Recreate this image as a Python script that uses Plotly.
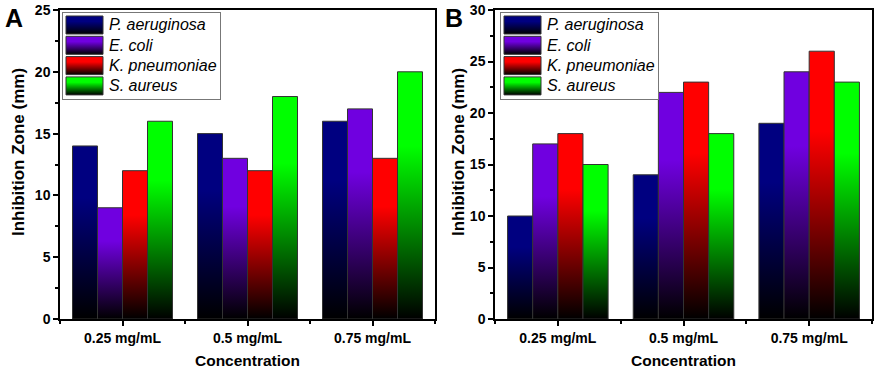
import plotly.graph_objects as go

categories = ["0.25 mg/mL", "0.5 mg/mL", "0.75 mg/mL"]
species = ["P. aeruginosa", "E. coli", "K. pneumoniae", "S. aureus"]
colors = ["#000080", "#7000E0", "#FF0000", "#00FF00"]

panel_a = {
    "P. aeruginosa": [14, 15, 16],
    "E. coli": [9, 13, 17],
    "K. pneumoniae": [12, 12, 13],
    "S. aureus": [16, 18, 20],
}
panel_b = {
    "P. aeruginosa": [10, 14, 19],
    "E. coli": [17, 22, 24],
    "K. pneumoniae": [18, 23, 26],
    "S. aureus": [15, 18, 23],
}

W, H = 879, 377


def px(x):
    return x / W


def py(y):
    return 1 - y / H


fig = go.Figure()

bar_w = 0.2
n = len(species)


def grad(c):
    return dict(type="vertical", colorscale=[[0, "#000000"], [0.7, c], [1, c]])


def add_panel(data, xa, ya):
    for si, sp in enumerate(species):
        vals = data[sp]
        for ci, v in enumerate(vals):
            x0 = ci - n * bar_w / 2 + si * bar_w
            x1 = x0 + bar_w
            fig.add_trace(go.Scatter(
                x=[x0, x0, x1, x1, x0], y=[0, v, v, 0, 0],
                mode="lines", fill="toself",
                line=dict(color="#333333", width=1),
                fillgradient=grad(colors[si]),
                name=sp, showlegend=False,
                xaxis=xa, yaxis=ya, hoverinfo="skip",
            ))


add_panel(panel_a, "x", "y")
add_panel(panel_b, "x2", "y2")

# Manual legend boxes (legend-local pixel units)
LEG_W, LEG_H = 157, 86
annotations = []


def add_legend(xa, ya):
    for si, sp in enumerate(species):
        top = LEG_H - 3 - si * 20.3
        bot = top - 18
        fig.add_trace(go.Scatter(
            x=[3, 3, 40, 40, 3], y=[bot, top, top, bot, bot],
            mode="lines", fill="toself",
            line=dict(color="#333333", width=1),
            fillgradient=grad(colors[si]),
            name=sp, showlegend=False, xaxis=xa, yaxis=ya, hoverinfo="skip",
        ))
        annotations.append(dict(
            text=sp, x=44, y=(top + bot) / 2, xref=xa, yref=ya,
            xanchor="left", yanchor="middle", showarrow=False,
            font=dict(family="Liberation Sans", size=16, color="black", style="italic"),
        ))


add_legend("x3", "y3")
add_legend("x4", "y4")

font_tick = dict(family="Liberation Sans", size=14, color="black", weight="bold")
font_title = dict(family="Liberation Sans", size=15.5, color="black", weight="bold")
font_ytitle = dict(family="Liberation Sans", size=17, color="black", weight="bold")

ydom = [py(319), py(10)]
xaxis_common = dict(
    range=[-0.5, 2.5], tickvals=[0, 1, 2], ticktext=categories,
    ticks="outside", ticklen=5, tickwidth=1.5, tickcolor="black",
    showline=True, linecolor="black", linewidth=1.5, mirror=True,
    showgrid=False, zeroline=False, tickfont=font_tick, automargin=False,
    ticklabeloverflow="allow",
    minor=dict(tickvals=[-0.5, 0.5, 1.5, 2.5], ticks="outside", ticklen=3, tickcolor="black", tickwidth=1.5),
    title=dict(text="Concentration", font=font_title, standoff=11),
)
yaxis_common = dict(
    ticks="outside", ticklen=5, tickwidth=1.5, tickcolor="black", dtick=5,
    showline=True, linecolor="black", linewidth=1.5, mirror=True,
    showgrid=False, zeroline=False, tickfont=font_tick, automargin=False,
    ticklabeloverflow="allow",
    minor=dict(dtick=2.5, ticks="outside", ticklen=3, tickcolor="black", tickwidth=1.5),
)
leg_x = dict(range=[0, LEG_W], showline=True, mirror=True, linecolor="#777777", linewidth=1,
             showticklabels=False, ticks="", showgrid=False, zeroline=False, fixedrange=True, automargin=False)
leg_y = dict(range=[0, LEG_H], showline=True, mirror=True, linecolor="#777777", linewidth=1,
             showticklabels=False, ticks="", showgrid=False, zeroline=False, fixedrange=True, automargin=False)

annotations += [
    dict(text="A", x=px(3), y=py(2), xref="paper", yref="paper", xanchor="left", yanchor="top",
         showarrow=False, font=dict(family="Liberation Sans", size=25, color="black", weight="bold")),
    dict(text="B", x=px(443), y=py(2), xref="paper", yref="paper", xanchor="left", yanchor="top",
         showarrow=False, font=dict(family="Liberation Sans", size=25, color="black", weight="bold")),
    dict(text="Inhibition Zone (mm)", x=px(18), y=py(152), xref="paper", yref="paper",
         xanchor="center", yanchor="middle", textangle=-90, showarrow=False, font=font_ytitle),
    dict(text="Inhibition Zone (mm)", x=px(458), y=py(152), xref="paper", yref="paper",
         xanchor="center", yanchor="middle", textangle=-90, showarrow=False, font=font_ytitle),
]

fig.update_layout(
    width=W, height=H, margin=dict(l=0, r=0, t=0, b=0, autoexpand=False),
    plot_bgcolor="white", paper_bgcolor="white", showlegend=False,
    xaxis=dict(domain=[px(60), px(435)], anchor="y", **xaxis_common),
    yaxis=dict(domain=ydom, anchor="x", range=[0, 25], **yaxis_common),
    xaxis2=dict(domain=[px(495), px(872)], anchor="y2", **xaxis_common),
    yaxis2=dict(domain=ydom, anchor="x2", range=[0, 30], **yaxis_common),
    xaxis3=dict(domain=[px(63), px(220)], anchor="y3", **leg_x),
    yaxis3=dict(domain=[py(99), py(13)], anchor="x3", **leg_y),
    xaxis4=dict(domain=[px(501), px(658)], anchor="y4", **leg_x),
    yaxis4=dict(domain=[py(99), py(13)], anchor="x4", **leg_y),
    annotations=annotations,
)

fig.write_html("out.html", config={"displayModeBar": False},
               post_script="document.body.style.margin='0px';document.body.style.overflow='hidden';")
